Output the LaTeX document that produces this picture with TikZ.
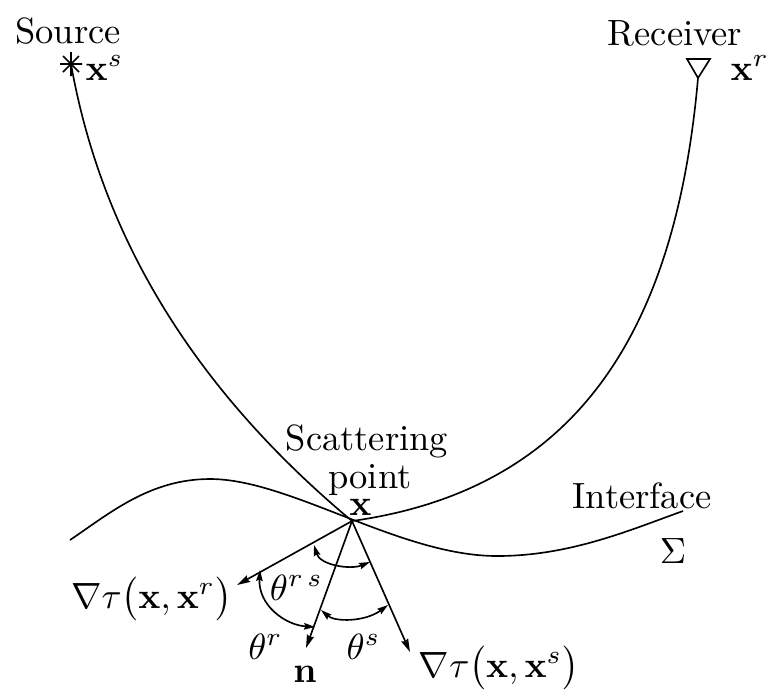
\documentclass[tikz,border=0pt]{standalone}
\usetikzlibrary{arrows.meta}
\begin{document}
\begin{tikzpicture}[x=0.274pt,y=-0.274pt,
  ln/.style={line width=0.45pt},
  vec/.style={ln,-{Stealth[length=3.6pt,width=2pt,inset=0.4pt]}},
  dbl/.style={ln,{Stealth[length=3pt,width=1.8pt,inset=0.4pt]}-{Stealth[length=3pt,width=1.8pt,inset=0.4pt]}},
  lbl/.style={inner sep=0pt,anchor=base}]
\useasboundingbox (0,0) rectangle (776,691);
% key points
\coordinate (src) at (71,64);
\coordinate (rcv) at (698,78);
\coordinate (X) at (352,521);
\coordinate (rtip) at (237,585);
\coordinate (ntip) at (306,648);
\coordinate (stip) at (410,652);
\coordinate (i0) at (70,540);
\coordinate (i1) at (210,479);
\coordinate (i2) at (497,556);
\coordinate (i3) at (683,511);
% source marker
\draw[ln] (71,52) -- (71,76) (60,64) -- (82,64) (63,56) -- (79,72) (63,72) -- (79,56);
% receiver marker
\draw[ln] (687,59) -- (710,59) -- (rcv) -- cycle;
% rays
\draw[ln] (src) .. controls (104,250) and (206,399) .. (X);
\draw[ln] (X) .. controls (580,489) and (676,328) .. (rcv);
% interface
\draw[ln] (i0) .. controls (110,513) and (150,479) .. (i1)
  .. controls (290,479) and (400,556) .. (i2)
  .. controls (570,556) and (630,530) .. (i3);
% vectors
\draw[vec] (X) -- (rtip);
\draw[vec] (X) -- (ntip);
\draw[vec] (X) -- (stip);
% angle arcs
\coordinate (a1) at (314,545); \coordinate (a2) at (370,562);
\coordinate (b1) at (260,570); \coordinate (b2) at (315,627);
\coordinate (c1) at (321,610); \coordinate (c2) at (388,605);
\draw[dbl] (a1) .. controls (320,565) and (350,570) .. (a2);
\draw[dbl] (b1) .. controls (258,605) and (285,625) .. (b2);
\draw[dbl] (c1) .. controls (335,622) and (365,622) .. (c2);
% labels
\node[lbl] (tsrc) at (68,43) {Source};
\node[lbl,anchor=base west] (txs) at (85,80) {$\mathbf{x}^s$};
\node[lbl] (trcv) at (675,45) {Receiver};
\node[lbl,anchor=base west] (txr) at (730,80) {$\mathbf{x}^r$};
\node[lbl] (tsc1) at (367,450) {Scattering};
\node[lbl] (tsc2) at (370,488) {point};
\node[lbl] (tx) at (360.5,515) {$\mathbf{x}$};
\node[lbl] (tif) at (642,508) {Interface};
\node[lbl] (tsig) at (673,563) {$\Sigma$};
\node[lbl] (tgr) at (151.5,608) {$\nabla\tau\bigl(\mathbf{x},\mathbf{x}^r\bigr)$};
\node[lbl] (tgs) at (499,677) {$\nabla\tau\bigl(\mathbf{x},\mathbf{x}^s\bigr)$};
\node[lbl] (trs) at (296.5,600) {$\theta^{r\,s}$};
\node[lbl] (tr) at (265.5,659) {$\theta^{r}$};
\node[lbl] (tn) at (305,682) {$\mathbf{n}$};
\node[lbl] (ts) at (363.5,659) {$\theta^{s}$};
\end{tikzpicture}
\end{document}
